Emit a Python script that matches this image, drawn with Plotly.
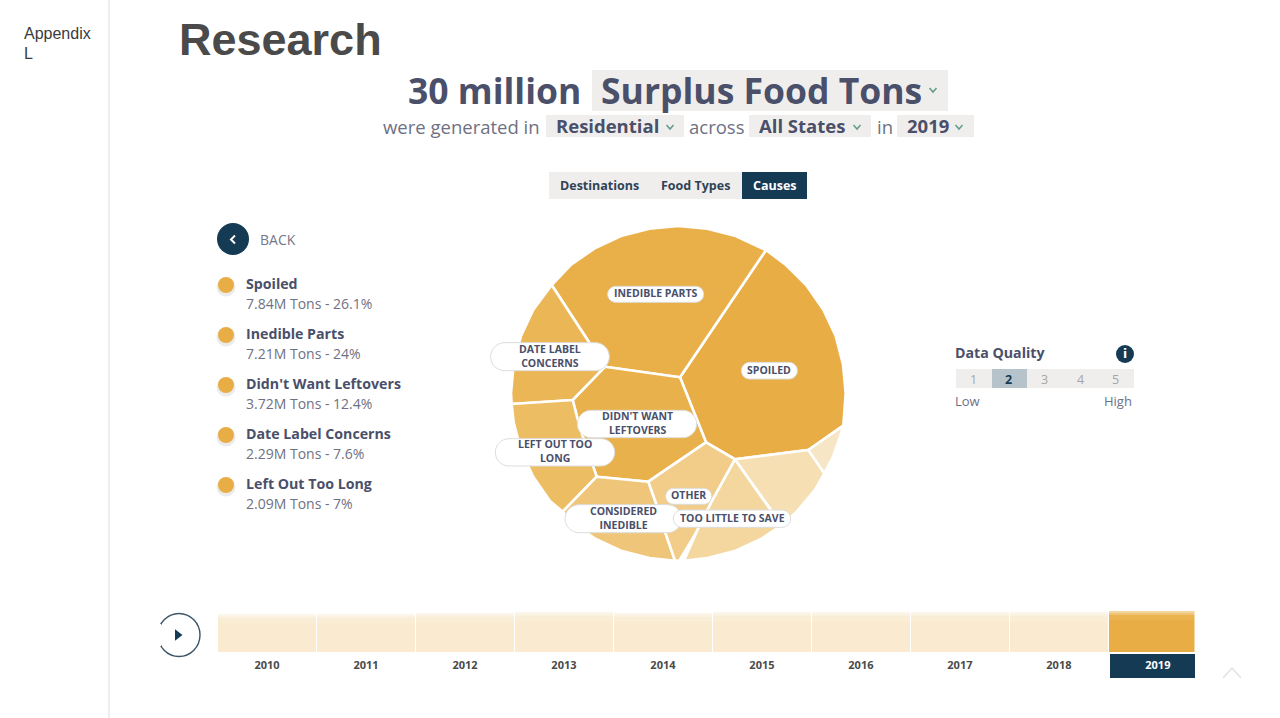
import plotly.graph_objects as go

W, H = 1280, 718
FONT = "Open Sans"
INK = "#4A4F6A"
SOFT = "#6E7183"
NAVY = "#153A54"
PANEL = "#F0EEEC"

# ---- Voronoi cells (cell-map units: 3 per screen pixel) ----
cell_names = ["Spoiled", "Inedible Parts", "Didn't Want Leftovers", "Date Label Concerns",
              "Left Out Too Long", "Considered Inedible", "Other", "Too Little To Save",
              "Unlabeled A", "Unlabeled B"]
cell_colors = ["#E8AE45", "#E9B049", "#E9B14B", "#EBB655", "#EDBD64", "#EFC679",
               "#F1CD89", "#F3D79F", "#F5DFB3", "#F6E6C6"]
spoiled_x = [600, 858, 918, 980, 1030, 1067, 1089, 1097, 1090, 985, 765, 678]
spoiled_y = [487, 105, 150, 212, 284, 363, 448, 535, 632, 705, 733, 682]
inedible_x = [215, 272, 344, 423, 508, 595, 682, 767, 846, 858, 600, 375]
inedible_y = [210, 150, 100, 63, 41, 33, 41, 63, 100, 105, 487, 455]
didnt_x = [375, 600, 678, 505, 350, 300, 278]
didnt_y = [455, 487, 682, 800, 785, 640, 555]
date_x = [215, 375, 278, 95, 93, 101, 123, 160]
date_y = [210, 455, 555, 567, 535, 448, 363, 284]
left_x = [95, 278, 300, 350, 248, 210, 160, 123, 101]
left_y = [567, 555, 640, 785, 890, 858, 786, 707, 622]
considered_x = [350, 505, 530, 555, 585, 508, 423, 344, 272, 248]
considered_y = [785, 800, 870, 950, 1037, 1029, 1007, 970, 920, 890]
other_x = [505, 678, 765, 695, 650, 598, 585, 555, 530]
other_y = [800, 682, 733, 860, 950, 1037, 1037, 950, 870]
little_x = [765, 870, 904, 846, 767, 682, 612, 650, 695]
little_y = [733, 880, 931, 970, 1007, 1029, 1037, 950, 860]
unl_a_x = [765, 985, 1033, 1006, 950, 904, 870]
unl_a_y = [733, 705, 775, 823, 890, 931, 880]
unl_b_x = [985, 1090, 1080, 1060, 1033]
unl_b_y = [705, 632, 665, 723, 775]
cell_xs = [spoiled_x, inedible_x, didnt_x, date_x, left_x, considered_x, other_x, little_x, unl_a_x, unl_b_x]
cell_ys = [spoiled_y, inedible_y, didnt_y, date_y, left_y, considered_y, other_y, little_y, unl_a_y, unl_b_y]

# pill labels: text, centre, half sizes in cell-map units
pill_labels = ["INEDIBLE PARTS", "SPOILED", "DATE LABEL<br>CONCERNS", "DIDN'T WANT<br>LEFTOVERS",
               "LEFT OUT TOO<br>LONG", "OTHER", "CONSIDERED<br>INEDIBLE", "TOO LITTLE TO SAVE"]
pill_cx = [527, 868, 210, 471, 225, 626, 430, 756]
pill_cy = [238, 467, 425, 627, 712, 844, 911, 911]
pill_hw = [144, 84, 178, 179, 179, 69, 175, 176]
pill_hh = [24, 25, 42, 41, 41, 24, 42, 26]

# ---- Legend ----
legend_names = ["Spoiled", "Inedible Parts", "Didn't Want Leftovers", "Date Label Concerns", "Left Out Too Long"]
legend_tons = ["7.84", "7.21", "3.72", "2.29", "2.09"]
legend_share = ["26.1", "24", "12.4", "7.6", "7"]
legend_y = [285, 335, 385, 435, 485]

# ---- Timeline (million tons per year, in four stacked bands) ----
years = ["2010", "2011", "2012", "2013", "2014", "2015", "2016", "2017", "2018", "2019"]
band_major = [21.0, 21.2, 21.4, 21.9, 21.8, 21.9, 22.2, 22.0, 21.9, 23.2]
band_mid = [4.0, 4.0, 4.0, 4.1, 4.1, 4.1, 4.2, 4.1, 4.1, 3.6]
band_minor = [1.8, 1.8, 1.8, 1.9, 1.9, 1.9, 1.9, 1.9, 1.9, 1.6]
band_least = [0.9, 0.9, 1.0, 1.1, 1.0, 1.1, 1.2, 1.0, 1.1, 1.6]
band_colors_2019 = ["#E8AE45", "#EAB350", "#EFC476", "#F2D69E"]
band_colors_past = ["#F9EAD0", "#FAEDD6", "#FBF1E0", "#FCF5EA"]
quality_levels = ["1", "2", "3", "4", "5"]
quality_x = [973, 1008, 1044, 1080, 1115]

fig = go.Figure()

def rect(x0, y0, x1, y1, color, layer="below"):
    fig.add_shape(type="rect", xref="x", yref="y", x0=x0, y0=y0, x1=x1, y1=y1,
                  fillcolor=color, line_width=0, layer=layer)

def text(x, y, s, size, color=INK, weight=400, anchor="left", family=FONT):
    nudge = {"left": -2, "right": 1, "center": 0}[anchor]
    fig.add_annotation(x=x + nudge, y=y - 1, xref="x", yref="y", text=s, showarrow=False, xanchor=anchor,
                       yanchor="middle", align=anchor,
                       font=dict(family=family, size=size, color=color, weight=weight))

def chevron(x, y, dx, dy, color, width=1.5):
    fig.add_shape(type="path", xref="x", yref="y", path=f"M {x-dx} {y-dy} L {x} {y+dy} L {x+dx} {y-dy}",
                  line=dict(color=color, width=width), fillcolor="rgba(0,0,0,0)")

def pill(cx, cy, hw, hh):
    x0, x1, y0, y1 = cx - hw, cx + hw, cy - hh, cy + hh
    k = hh * 0.55
    p = (f"M {x0+hh} {y0} L {x1-hh} {y0} C {x1-hh+k} {y0} {x1} {cy-k} {x1} {cy} "
         f"C {x1} {cy+k} {x1-hh+k} {y1} {x1-hh} {y1} L {x0+hh} {y1} "
         f"C {x0+hh-k} {y1} {x0} {cy+k} {x0} {cy} C {x0} {cy-k} {x0+hh-k} {y0} {x0+hh} {y0} Z")
    fig.add_shape(type="path", xref="x3", yref="y3", path=p, fillcolor="#FFFFFF",
                  line=dict(color="#DDDDDD", width=1), layer="above")

# legend dots with their soft shadow, play triangle
fig.add_trace(go.Scatter(x=[226] * 5, y=[v + 2 for v in legend_y], mode="markers", xaxis="x", yaxis="y",
                         marker=dict(size=19, color="rgba(0,0,0,0.08)"), hoverinfo="skip", showlegend=False))
fig.add_trace(go.Scatter(x=[226] * 5, y=legend_y, mode="markers", xaxis="x", yaxis="y", name="Causes",
                         marker=dict(size=16, color="#E8AE45"), hoverinfo="skip", showlegend=False))
fig.add_trace(go.Scatter(x=[177.5], y=[635], mode="markers", xaxis="x", yaxis="y",
                         marker=dict(size=10, color=NAVY, symbol="triangle-right"), hoverinfo="skip", showlegend=False))

# timeline bars
for band, c19, cpast in zip([band_major, band_mid, band_minor, band_least], band_colors_2019, band_colors_past):
    fig.add_trace(go.Bar(x=years, y=band, xaxis="x2", yaxis="y2", width=0.985,
                         marker=dict(color=[c19 if yr == "2019" else cpast for yr in years], line_width=0),
                         hoverinfo="skip", showlegend=False))

# voronoi cells
for name, xs, ys, color in zip(cell_names, cell_xs, cell_ys, cell_colors):
    fig.add_trace(go.Scatter(x=xs + xs[:1], y=ys + ys[:1], xaxis="x3", yaxis="y3", mode="lines", fill="toself",
                             fillcolor=color, line=dict(color="#FFFFFF", width=2.6), name=name,
                             hoverinfo="skip", showlegend=False))

# pills
for label, cx, cy, hw, hh in zip(pill_labels, pill_cx, pill_cy, pill_hw, pill_hh):
    pill(cx, cy, hw, hh)
    fig.add_annotation(x=cx, y=cy, xref="x3", yref="y3", text=label, showarrow=False, xanchor="center",
                       yanchor="middle", align="center", yshift=1,
                       font=dict(family=FONT, size=10.5, color=INK, weight=700))

# page furniture
fig.add_shape(type="line", xref="x", yref="y", x0=109, x1=109, y0=0, y1=718, line=dict(color="#DEDEDE", width=1), layer="below")
text(24, 34, "Appendix", 16, "#3A3A3A", 400, family="Liberation Sans")
text(24, 54, "L", 16, "#3A3A3A", 400, family="Liberation Sans")
text(179, 40, "Research", 45, "#4A4A4A", 700, family="Liberation Sans")

# headline
rect(592, 70, 948, 111, PANEL)
text(408, 91, "30 million", 35.5, INK, 700)
text(601, 91, "Surplus Food Tons", 35.5, INK, 700)
chevron(933, 90, 3.5, 2, "#5E9C8E")
text(383, 127, "were generated in", 18.5, SOFT)
rect(546, 115, 684, 137, PANEL)
text(556, 126.5, "Residential", 18.5, INK, 700)
chevron(670, 127, 3.5, 2, "#5E9C8E")
text(689, 127, "across", 18.5, SOFT)
rect(749, 115, 871, 137, PANEL)
text(759, 126.5, "All States", 18.5, INK, 700)
chevron(857, 127, 3.5, 2, "#5E9C8E")
text(877, 127, "in", 18.5, SOFT)
rect(897, 115, 974, 137, PANEL)
text(907, 126.5, "2019", 18.5, INK, 700)
chevron(959, 127, 3.5, 2, "#5E9C8E")

# tabs
rect(549, 172, 807, 199, PANEL)
rect(742, 172, 807, 199, NAVY)
text(599, 186.5, "Destinations", 12.5, "#2F4358", 700, "center")
text(695.5, 186.5, "Food Types", 12.5, "#2F4358", 700, "center")
text(774.5, 186.5, "Causes", 12.5, "#FFFFFF", 700, "center")

# back button
fig.add_shape(type="circle", xref="x", yref="y", x0=217, x1=249, y0=223, y1=255, fillcolor=NAVY, line_width=0, layer="below")
fig.add_shape(type="path", xref="x", yref="y", path="M 235 235.5 L 231 239.5 L 235 243.5",
              line=dict(color="#FFFFFF", width=2), fillcolor="rgba(0,0,0,0)")
text(260, 240, "BACK", 14, "#75778A")

# legend text
for nm, t, s, y in zip(legend_names, legend_tons, legend_share, legend_y):
    text(245.5, y - 0.5, nm, 14.2, INK, 700)
    text(245.5, y + 19, f"{t}M Tons - {s}%", 14, SOFT)

# data quality
text(955, 353.5, "Data Quality", 14.2, INK, 700)
fig.add_shape(type="circle", xref="x", yref="y", x0=1116, x1=1134, y0=345, y1=363, fillcolor=NAVY, line_width=0, layer="below")
text(1125, 355, "i", 12, "#FFFFFF", 700, "center", family="DejaVu Sans")
rect(956, 369, 1134, 388, PANEL)
rect(992, 369, 1027, 388, "#B7C3CB")
for lvl, x in zip(quality_levels, quality_x):
    text(x, 380, lvl, 12.5, NAVY if lvl == "2" else "#A5A5A5", 700 if lvl == "2" else 400, "center")
text(955, 402, "Low", 13, SOFT)
text(1133, 402, "High", 13, SOFT, 400, "right")

# play button and corner chevron
fig.add_shape(type="circle", xref="x", yref="y", x0=158, x1=200, y0=613.5, y1=656.5,
              line=dict(color="#3B5468", width=1.4), fillcolor="rgba(0,0,0,0)", layer="below")
rect(155, 624, 161, 646, "#FFFFFF", layer="above")
fig.add_shape(type="path", xref="x", yref="y", path="M 1223 678 L 1232 668 L 1241 678",
              line=dict(color="#E2E2E2", width=1.5), fillcolor="rgba(0,0,0,0)")

# selected year tile
rect(1110, 654, 1195, 678, NAVY)

tick_text = [f'<span style="color:#FFFFFF">{y}</span>' if y == "2019" else y for y in years]
hidden = dict(visible=False, showgrid=False, zeroline=False, fixedrange=True)
fig.update_layout(
    width=W, height=H, margin=dict(l=0, r=0, t=0, b=0), autosize=False,
    paper_bgcolor="#FFFFFF", plot_bgcolor="rgba(0,0,0,0)", barmode="stack", bargap=0.015, showlegend=False,
    xaxis=dict(range=[0, W], domain=[0, 1], **hidden),
    yaxis=dict(range=[H, 0], domain=[0, 1], **hidden),
    xaxis2=dict(domain=[217.5 / W, 1194.5 / W], anchor="y2", type="category", range=[-0.5, 9.37],
                categoryorder="array", categoryarray=years, tickmode="array", tickvals=years, ticktext=tick_text,
                showgrid=False, zeroline=False, showline=False, ticks="outside", ticklen=3, tickcolor="rgba(0,0,0,0)",
                tickfont=dict(family=FONT, size=11, color="#4A4A4A", weight=700), fixedrange=True),
    yaxis2=dict(domain=[(H - 652) / H, (H - 608) / H], anchor="x2", range=[0, 32.2], **hidden),
    xaxis3=dict(range=[0, 1140], domain=[480 / W, 860 / W], anchor="y3", **hidden),
    yaxis3=dict(range=[1065, 0], domain=[(H - 570) / H, (H - 215) / H], anchor="x3", **hidden),
)

fig.write_html("out.html", config=dict(displayModeBar=False),
               post_script="document.body.style.margin='0';document.body.style.overflow='hidden';")
